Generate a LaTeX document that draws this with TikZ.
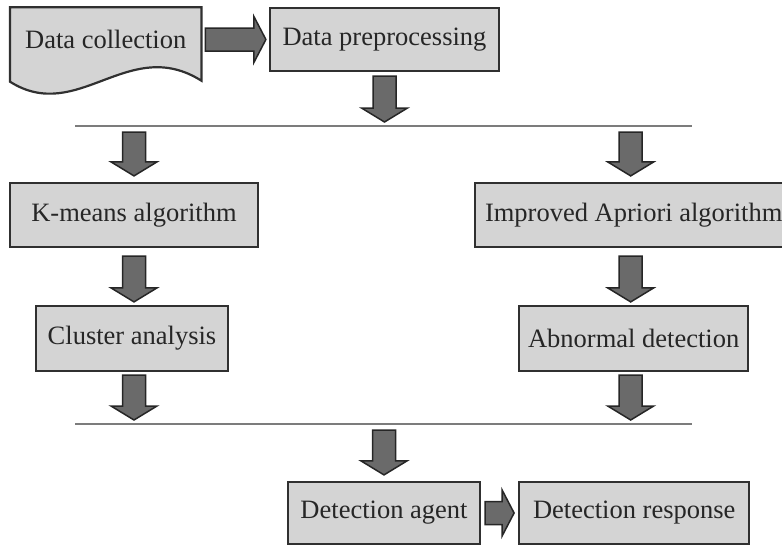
\documentclass[tikz,border=0pt]{standalone}
\usepackage{fontspec}
\setmainfont{Liberation Serif}
\usetikzlibrary{calc}
\usetikzlibrary{positioning}
\usetikzlibrary{backgrounds}
\definecolor{boxfill}{HTML}{D4D4D4}
\definecolor{boxedge}{HTML}{303030}
\definecolor{flowfill}{HTML}{6A6A6A}
\definecolor{rulegray}{HTML}{7C7C7C}

\begin{document}
\begin{tikzpicture}[x=1pt, y=-1pt,
        every node/.style={font=\fontsize{26.5}{30}\selectfont, text=black!85},
        box/.style={draw=boxedge, fill=boxfill, line width=2.2pt,
          minimum height=64pt, inner sep=0pt},
        downflow/.style={draw=black!85, fill=flowfill, line width=1.5pt,
          to path={let \p1=(\tikztostart), \p2=(\tikztotarget) in
            (\x1-11.5pt,\y1) -- (\x1+11.5pt,\y1) -- (\x1+11.5pt,\y2+14pt)
            -- (\x1+23pt,\y2+14pt) -- (\x1,\y2) -- (\x1-23pt,\y2+14pt)
            -- (\x1-11.5pt,\y2+14pt) -- cycle}},
        rightflow/.style={draw=black!85, fill=flowfill, line width=1.5pt,
          to path={let \p1=(\tikztostart), \p2=(\tikztotarget) in
            (\x1,\y1+11.5pt) -- (\x2-12pt,\y1+11.5pt) -- (\x2-12pt,\y1+23pt)
            -- (\x2,\y1) -- (\x2-12pt,\y1-23pt) -- (\x2-12pt,\y1-11.5pt)
            -- (\x1,\y1-11.5pt) -- cycle}},
        rule/.style={draw=rulegray, line width=2pt},
      ]
      \useasboundingbox (0,0) rectangle (782,546);
      \clip (0,0) rectangle (782,546);

      \node[box, minimum width=229pt, minimum height=63pt] (prep) at (384.5,39.5) {Data preprocessing};
      \node[minimum width=191pt, minimum height=64pt, inner sep=0pt, left=67.5pt of prep] (collect) {Data collection};
      \begin{scope}[on background layer]
        \draw[draw=boxedge, fill=boxfill, line width=2.2pt]
          (collect.north west) -- (collect.north east) -- ($(collect.south east)+(0,9)$)
          .. controls ($(collect.south east)+(-73,-37)$) and ($(collect.south west)+(68,53)$)
          .. ($(collect.south west)+(0,10)$) -- cycle;
      \end{scope}

      \node[box, minimum width=248pt] (kmeans) at (134,215) {K-means algorithm};
      \node[box, minimum width=317pt, right=215pt of kmeans] (apriori) {Improved Apriori algorithm};
      \node[box, minimum width=192pt, minimum height=65pt] (cluster) at (132,338.5) {Cluster analysis};
      \node[box, minimum width=229pt, minimum height=65pt, right=289pt of cluster] (abnormal) {Abnormal detection};
      \node[box, minimum width=192pt, minimum height=62pt] (agent) at (384,513) {Detection agent};
      \node[box, minimum width=230pt, minimum height=62pt, right=37pt of agent] (response) {Detection response};

      \coordinate (split1) at (75,126);
      \coordinate (split2) at (692,126);
      \coordinate (merge1) at (75,424);
      \coordinate (merge2) at (692,424);
      \draw[rule] (split1) -- (split2);
      \draw[rule] (merge1) -- (merge2);

      \draw[rightflow] ($(collect.east)+(4,0)$) to ($(prep.west)+(-3,0)$);
      \draw[downflow] ($(prep.south)+(0,4)$) to ($(prep.south |- split1)+(0,-4)$);
      \draw[downflow] ($(kmeans.north |- split1)+(0,6)$) to ($(kmeans.north)+(0,-6)$);
      \draw[downflow] ($(apriori.north |- split1)+(-3,6)$) to ($(apriori.north)+(-3,-6)$);
      \draw[downflow] ($(kmeans.south)+(0,8)$) to ($(kmeans.south |- cluster.north)+(0,-3)$);
      \draw[downflow] ($(apriori.south)+(-3,8)$) to ($(apriori.south |- abnormal.north)+(-3,-3)$);
      \draw[downflow] ($(kmeans.south |- cluster.south)+(0,3)$) to ($(kmeans.south |- merge1)+(0,-4)$);
      \draw[downflow] ($(apriori.south |- abnormal.south)+(-3,3)$) to ($(apriori.south |- merge1)+(-3,-4)$);
      \draw[downflow] ($(agent.north |- merge1)+(0,6)$) to ($(agent.north)+(0,-6)$);
      \draw[rightflow] ($(agent.east)+(4,0)$) to ($(response.west)+(-4,0)$);
    \end{tikzpicture}
\end{document}
